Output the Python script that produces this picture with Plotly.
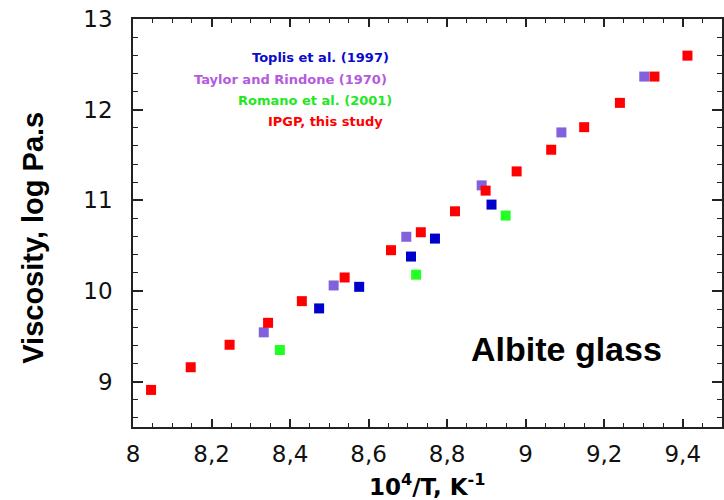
import plotly.graph_objects as go

# IPGP, this study (red)
ipgp_x = [8.046, 8.147, 8.246, 8.344, 8.430, 8.539, 8.657, 8.733, 8.820, 8.898,
          8.977, 9.065, 9.149, 9.240, 9.328, 9.412]
ipgp_y = [8.909, 9.159, 9.407, 9.649, 9.888, 10.149, 10.450, 10.648, 10.879, 11.107,
          11.319, 11.558, 11.807, 12.075, 12.365, 12.596]

# Taylor and Rindone (1970) (purple)
taylor_x = [8.333, 8.511, 8.696, 8.888, 9.091, 9.302]
taylor_y = [9.544, 10.061, 10.598, 11.165, 11.749, 12.365]

# Toplis et al. (1997) (blue)
toplis_x = [8.474, 8.576, 8.708, 8.769, 8.913]
toplis_y = [9.808, 10.046, 10.380, 10.578, 10.953]

# Romano et al. (2001) (green)
romano_x = [8.374, 8.721, 8.949]
romano_y = [9.349, 10.180, 10.832]

series = [
    ("Taylor and Rindone (1970)", taylor_x, taylor_y, "#8262DC"),
    ("Toplis et al. (1997)", toplis_x, toplis_y, "#0000CC"),
    ("Romano et al. (2001)", romano_x, romano_y, "#22FF22"),
    ("IPGP, this study", ipgp_x, ipgp_y, "#FF0000"),
]

fig = go.Figure()
for name, xs, ys, col in series:
    fig.add_trace(go.Scatter(
        x=xs, y=ys, mode="markers", name=name,
        marker=dict(symbol="square", size=10, color=col, line=dict(width=0)),
        showlegend=False,
    ))

legend_items = [
    ("Toplis et al. (1997)", "#0A0ACC", 8.477, 12.574),
    ("Taylor and Rindone (1970)", "#B45AE0", 8.402, 12.332),
    ("Romano et al. (2001)", "#22E822", 8.463, 12.104),
    ("IPGP, this study", "#FF0000", 8.491, 11.875),
]
annotations = []
for txt, col, ax, ay in legend_items:
    annotations.append(dict(
        x=ax, y=ay, xref="x", yref="y", text=txt, showarrow=False,
        xanchor="center", yanchor="middle",
        font=dict(family="DejaVu Sans", size=13, color=col, weight="bold"),
    ))

annotations.append(dict(
    x=9.104, y=9.36, xref="x", yref="y", text="Albite glass", showarrow=False,
    xanchor="center", yanchor="middle",
    font=dict(family="Liberation Sans, Arial", size=34, color="#000000", weight="bold"),
))
annotations.append(dict(
    x=-0.169, y=0.465, xref="paper", yref="paper", text="Viscosity, log Pa.s",
    showarrow=False, textangle=-90, xanchor="center", yanchor="middle",
    font=dict(family="Liberation Sans Narrow, Liberation Sans, Arial", size=29,
              color="#000000", weight="bold"),
))
annotations.append(dict(
    x=0.5, y=-0.142, xref="paper", yref="paper",
    text="10<sup>4</sup>/T, K<sup>-1</sup>",
    showarrow=False, xanchor="center", yanchor="middle",
    font=dict(family="DejaVu Sans", size=23, color="#000000", weight="bold"),
))

axis_common = dict(
    showline=True, linecolor="#222222", linewidth=1.5, mirror="ticks",
    ticks="inside", tickcolor="#222222", tickwidth=1.5,
    showgrid=False, zeroline=False,
    tickfont=dict(family="DejaVu Sans", size=23, color="#111111"),
)

fig.update_xaxes(
    range=[8, 9.5], tick0=8, dtick=0.2, ticklen=8, ticklabelstandoff=6,
    minor=dict(dtick=0.05, tick0=8, ticks="inside", ticklen=4, tickcolor="#222222",
               tickwidth=1.2, showgrid=False),
    **axis_common,
)
fig.update_yaxes(
    range=[8.5, 13], tick0=9, dtick=1, ticklen=10, ticklabelstandoff=14,
    minor=dict(dtick=0.2, tick0=9, ticks="inside", ticklen=5, tickcolor="#222222",
               tickwidth=1.2, showgrid=False),
    **axis_common,
)

fig.update_layout(
    width=724, height=500,
    margin=dict(l=133, r=0, t=19, b=73),
    paper_bgcolor="white", plot_bgcolor="white",
    separators=", ",
    annotations=annotations,
    showlegend=False,
)

fig.write_html("out.html")
